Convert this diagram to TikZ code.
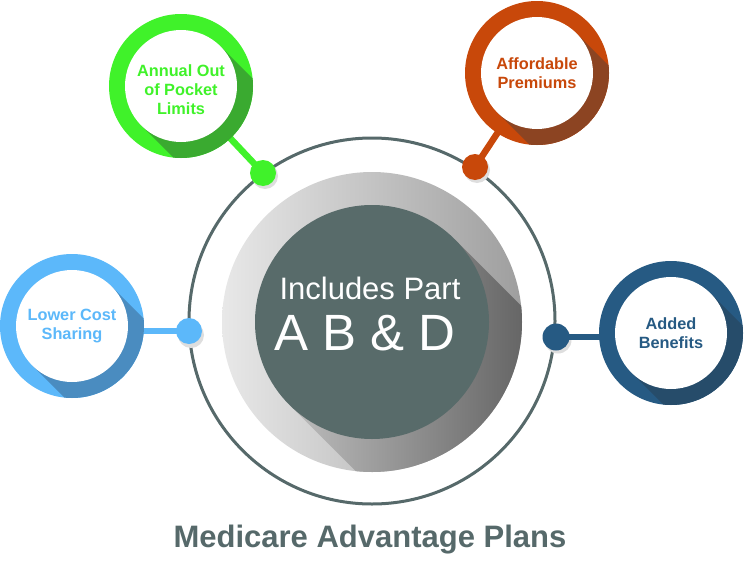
\documentclass[tikz,border=0pt]{standalone}
\usepackage{fontspec}
\setmainfont{Liberation Sans}
\usetikzlibrary{calc}
\definecolor{ringc}{RGB}{86,105,106}
\definecolor{diskc}{RGB}{88,107,106}
\definecolor{grn}{RGB}{64,242,42}
\definecolor{grnsh}{RGB}{58,170,48}
\definecolor{org}{RGB}{200,72,10}
\definecolor{orgsh}{RGB}{140,68,34}
\definecolor{lblu}{RGB}{92,184,250}
\definecolor{lblush}{RGB}{74,140,192}
\definecolor{dblu}{RGB}{38,90,131}
\definecolor{dblush}{RGB}{38,76,106}
% #1 name, #2 x, #3 y, #4 colour, #5 shadow colour, #6 text, #7 text y shift
\newcommand\mysat[7]{%
  \begin{scope}
    \fill[#4] (#2,#3) circle (72pt);
    \clip (#2,#3) circle (72pt);
    \fill[#5] ($(#2,#3)+(39.6,-39.6)$) -- ++(200,200) -- ($(#2,#3)+(-39.6,39.6)+(200,200)$) -- ($(#2,#3)+(-39.6,39.6)$) -- cycle;
  \end{scope}
  \fill[white] (#2,#3) circle (56pt);
  \node[sattext, text=#4] (#1) at ($(#2,#3)+(0,#7)$) {#6};%
}
\begin{document}
\begin{tikzpicture}[x=1pt,y=-1pt,
  sattext/.style={inner sep=0pt, align=center,
    font=\fontsize{16.3}{19}\selectfont\bfseries},
  dotn/.style={circle, minimum size=26pt, inner sep=0pt},
  dotsh/.style={fill=black!13},
  conn/.style={line width=6.5pt}]
\useasboundingbox (0,0) rectangle (744,562);
% central ring
\node[circle, draw=ringc, line width=3pt, minimum size=366pt, inner sep=0pt] (ring) at (372,321) {};
% gray disk with gradient
\shade[left color=black!9, right color=black!38] (372,322) circle (150pt);
\begin{scope}
  \clip (372,322) circle (150pt);
  \clip ($(372,322)+(82.7,-82.7)$) -- ++(300,300) -- ($(372,322)+(-82.7,82.7)+(300,300)$) -- ($(372,322)+(-82.7,82.7)$) -- cycle;
  \shade[left color=black!16, right color=black!60] (222,172) rectangle (522,472);
\end{scope}
\node[circle, fill=diskc, minimum size=234pt, inner sep=0pt] (core) at (372,322) {};
\node[text=white, font=\fontsize{31}{36}\selectfont, anchor=base] (inc) at (370,299) {Includes Part};
\node[text=white, font=\fontsize{51}{58}\selectfont, anchor=base] (abd) at (365,350) {A B \& D};
% satellite positions
\coordinate (gC) at (181,86);
\coordinate (oC) at (537,73);
\coordinate (lC) at (72,326);
\coordinate (dC) at (671,333);
% dot shadows
\fill[dotsh] (265,176) circle (13pt);
\fill[dotsh] (477,170) circle (13pt);
\fill[dotsh] (191,335) circle (13pt);
\fill[dotsh] (558,340) circle (13.5pt);
% dots
\node[dotn, fill=grn] (gD) at (263,173) {};
\node[dotn, fill=org] (oD) at (475,167) {};
\node[dotn, fill=lblu] (lD) at (189,331) {};
\node[dotn, fill=dblu, minimum size=27pt] (dD) at (556,337) {};
% connectors
\draw[conn, grn] (gC) -- (gD.center);
\draw[conn, org] (oC) -- (oD.center);
\draw[conn, lblu] (lC |- lD) -- (lD.center);
\draw[conn, dblu] (dC |- dD) -- (dD.center);
% satellites
\mysat{green}{181}{86}{grn}{grnsh}{Annual Out\\of Pocket\\Limits}{4}
\mysat{orange}{537}{73}{org}{orgsh}{Affordable\\Premiums}{0}
\mysat{lblue}{72}{326}{lblu}{lblush}{Lower Cost\\Sharing}{0}
\mysat{dblue}{671}{333}{dblu}{dblush}{Added\\Benefits}{0}
% title
\node[text=ringc, font=\fontsize{31}{36}\selectfont\bfseries] (title) at (370,540) {Medicare Advantage Plans};
\end{tikzpicture}
\end{document}
